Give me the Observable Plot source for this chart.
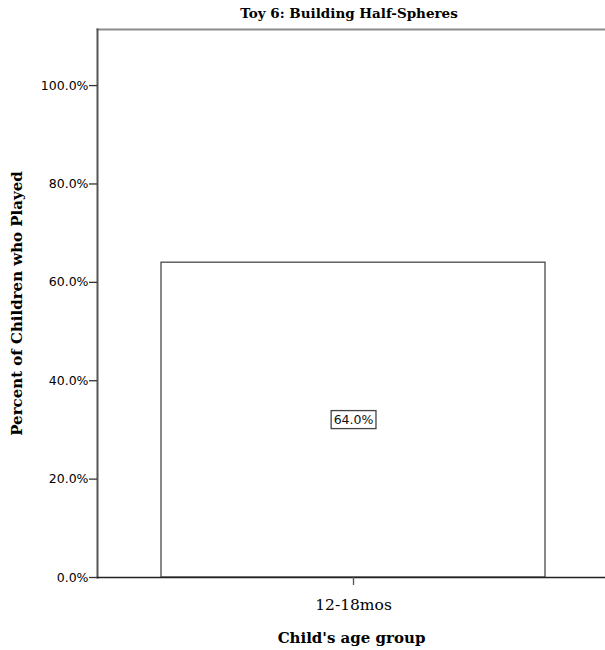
<!DOCTYPE html>
<html>
<head>
<meta charset="utf-8">
<script src="https://cdn.jsdelivr.net/npm/d3@7"></script>
<script src="https://cdn.jsdelivr.net/npm/@observablehq/plot@0.6"></script>
<style>
  html, body { margin: 0; padding: 0; background: #fff; }
  #wrap { position: relative; width: 605px; height: 650px; overflow: hidden; }
  #title { position: absolute; top: 5px; left: 0; width: 698px; text-align: center;
           font-family: "DejaVu Serif", serif; font-weight: bold; font-size: 13.5px; color: #000; line-height: 16px; }
  #chart { position: absolute; top: 0; left: 0; }
</style>
</head>
<body>
<div id="wrap">
  <div id="chart"></div>
  <div id="title"></div>
</div>
<script>
const chartTitle = "Toy 6: Building Half-Spheres";
const categories = ["12-18mos"];
const percents = [64.0];
const yTicks = [0, 20, 40, 60, 80, 100];
const yLabel = "Percent of Children who Played";
const xLabel = "Child's age group";

document.getElementById("title").textContent = chartTitle;
const data = categories.map((c, i) => ({group: c, pct: percents[i]}));

const plot = Plot.plot({
  width: 605,
  height: 650,
  marginTop: 29,
  marginBottom: 73,
  marginLeft: 97,
  marginRight: 0,
  style: {fontFamily: "DejaVu Sans, sans-serif", fontSize: "12px", color: "#000", background: "#fff", overflow: "visible"},
  x: {domain: categories, range: [97, 609], padding: 0.142857},
  y: {domain: [0, 111.4], range: [577, 29]},
  marks: [
    Plot.barY(data, {x: "group", y: "pct", fill: "white", stroke: "#3a3a3a", strokeWidth: 1.2}),
    Plot.frame({anchor: "top", stroke: "#8c8c8c", strokeWidth: 2}),
    Plot.frame({anchor: "left", stroke: "#555", strokeWidth: 2}),
    Plot.frame({anchor: "bottom", stroke: "#222", strokeWidth: 1.5}),
    Plot.axisY(yTicks, {
      tickFormat: d => d.toFixed(1) + "%",
      tickSize: 8, tickPadding: 1, stroke: "#333", strokeWidth: 1.3,
      fontSize: 12.5, label: yLabel, labelAnchor: "center", labelArrow: "none", labelOffset: 86
    }),
    Plot.axisX({
      tickSize: 8, tickPadding: 13, stroke: "#555", strokeWidth: 1.3,
      fontSize: 15.5,
      label: xLabel, labelAnchor: "center", labelArrow: "none", labelOffset: 65
    }),
    Plot.text(data, {x: "group", y: d => d.pct / 2, text: d => d.pct.toFixed(1) + "%",
      fontSize: 12.5, fill: "#111", className: "vlabel"})
  ]
});
document.getElementById("chart").appendChild(plot);

// Axis titles: bold serif
plot.querySelectorAll("[aria-label='y-axis label'] text, [aria-label='x-axis label'] text").forEach(t => {
  t.setAttribute("font-family", "DejaVu Serif, serif");
  t.setAttribute("font-weight", "bold");
  t.setAttribute("font-size", t.closest("[aria-label='y-axis label']") ? "15" : "15");
});
// X tick labels: regular serif
plot.querySelectorAll("[aria-label='x-axis tick label'] text, [aria-label='x-axis tick label']").forEach(t => {
  t.setAttribute("font-family", "DejaVu Serif, serif");
});

// Box around value labels
plot.querySelectorAll(".vlabel text").forEach(t => {
  const b = t.getBBox();
  const r = document.createElementNS("http://www.w3.org/2000/svg", "rect");
  r.setAttribute("x", b.x - 2.5);
  r.setAttribute("y", b.y - 1.5);
  r.setAttribute("width", b.width + 5);
  r.setAttribute("height", b.height + 3);
  r.setAttribute("fill", "white");
  r.setAttribute("stroke", "#444");
  r.setAttribute("stroke-width", 1.3);
  const tr = t.getAttribute("transform");
  if (tr) r.setAttribute("transform", tr);
  t.parentNode.insertBefore(r, t);
});
</script>
</body>
</html>
